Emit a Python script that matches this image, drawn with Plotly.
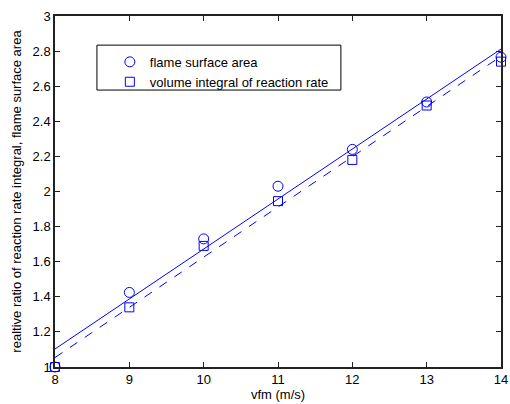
import numpy as np
import plotly.graph_objects as go

# velocidad vfm (m/s)
vfm = [8, 9, 10, 11, 12, 13, 14]
# razon relativa: area de superficie de llama
flame_area = [1.0, 1.425, 1.73, 2.03, 2.24, 2.51, 2.765]
# razon relativa: integral de volumen de la tasa de reaccion
reaction_integral = [1.0, 1.34, 1.69, 1.945, 2.18, 2.49, 2.74]

azul = "rgb(0,0,255)"
fuente = "Liberation Sans, Arial, sans-serif"

fig = go.Figure()

# Ajustes lineales de cada serie
x = np.array(vfm, dtype=float)
for datos, estilo in [(flame_area, "solid"), (reaction_integral, "dash")]:
    coef = np.polyfit(x, datos, 1)
    fig.add_trace(go.Scatter(
        x=x, y=np.polyval(coef, x), mode="lines",
        line=dict(color=azul, width=1, dash=estilo),
        showlegend=False, hoverinfo="skip"
    ))

fig.add_trace(go.Scatter(
    x=vfm, y=flame_area, mode="markers", name="flame surface area", cliponaxis=False,
    marker=dict(symbol="circle-open", size=10, color=azul, line=dict(width=1))
))
fig.add_trace(go.Scatter(
    x=vfm, y=reaction_integral, mode="markers", name="volume integral of reaction rate",
    cliponaxis=False,
    marker=dict(symbol="square-open", size=9, color=azul, line=dict(width=1))
))

ejes = dict(
    showline=True, linecolor="#222", linewidth=1.5, mirror="allticks",
    ticks="inside", ticklen=5, tickcolor="#222", showgrid=False, zeroline=False,
    automargin=False, ticklabeloverflow="allow",
    tickfont=dict(family=fuente, size=13, color="black")
)

# Caja de la leyenda (dibujada aparte para igualar el tamano)
fig.add_shape(type="rect", xref="paper", yref="paper",
              x0=0.094, x1=0.641, y0=0.789, y1=0.917,
              line=dict(color="black", width=1), fillcolor="white", layer="above")

fig.update_layout(
    width=510, height=404,
    margin=dict(l=55, r=9, t=16, b=37),
    paper_bgcolor="white", plot_bgcolor="white",
    font=dict(family=fuente, size=13, color="black"),
    xaxis=dict(range=[8, 14], dtick=1, title=dict(text="vfm (m/s)", standoff=2,
               font=dict(size=13)), **ejes),
    yaxis=dict(range=[1, 3], dtick=0.2, tickformat="~g",
               title=dict(text="realtive ratio of reaction rate integral, flame surface area",
                          standoff=8, font=dict(size=13)), **ejes),
    legend=dict(x=0.123, y=0.912, xanchor="left", yanchor="top",
                borderwidth=0, bgcolor="rgba(0,0,0,0)",
                font=dict(size=13), tracegroupgap=0),
    showlegend=True
)

# quitar el margen por defecto del body para que la figura empiece en (0,0)
fig.write_html("out.html", config={"displayModeBar": False},
               post_script="document.body.style.margin='0';document.body.style.overflow='hidden';")
